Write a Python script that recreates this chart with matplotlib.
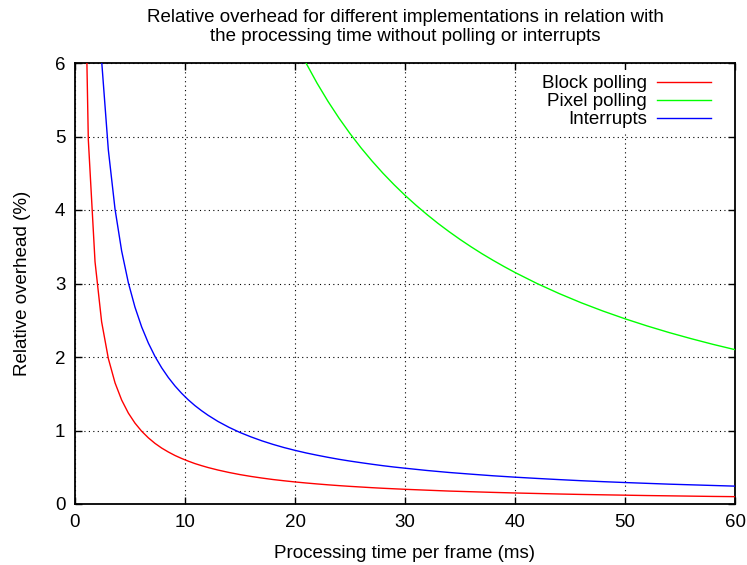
import matplotlib
import matplotlib.pyplot as plt

matplotlib.use("Agg")

plt.rcParams["font.family"] = ["Liberation Sans", "DejaVu Sans"]
plt.rcParams["font.size"] = 13.5

# processing time per frame (ms)
time_ms = [0.61, 1.21, 1.82, 2.42, 3.03, 3.64, 4.24, 4.85, 5.45, 6.06, 6.67, 7.27,
           7.88, 8.48, 9.09, 9.70, 10.3, 10.9, 11.5, 12.1, 13, 14, 15, 16, 17, 18,
           19, 20, 21, 22, 23, 24, 25, 26, 27, 28, 29, 30, 32, 34, 36, 38, 40, 42,
           44, 46, 48, 50, 52, 54, 56, 58, 60]

# relative overhead (%)
block_polling = [9.836, 4.959, 3.297, 2.479, 1.980, 1.648, 1.415, 1.237, 1.101, 0.990,
                 0.900, 0.825, 0.761, 0.708, 0.660, 0.619, 0.583, 0.550, 0.522, 0.496,
                 0.462, 0.429, 0.400, 0.375, 0.353, 0.333, 0.316, 0.300, 0.286, 0.273,
                 0.261, 0.250, 0.240, 0.231, 0.222, 0.214, 0.207, 0.200, 0.188, 0.176,
                 0.167, 0.158, 0.150, 0.143, 0.136, 0.130, 0.125, 0.120, 0.115, 0.111,
                 0.107, 0.103, 0.100]

interrupts = [23.93, 12.07, 8.022, 6.033, 4.818, 4.011, 3.443, 3.010, 2.679, 2.409,
              2.189, 2.008, 1.853, 1.722, 1.606, 1.505, 1.417, 1.339, 1.270, 1.207,
              1.123, 1.043, 0.973, 0.913, 0.859, 0.811, 0.768, 0.730, 0.695, 0.664,
              0.635, 0.608, 0.584, 0.562, 0.541, 0.521, 0.503, 0.487, 0.456, 0.429,
              0.406, 0.384, 0.365, 0.348, 0.332, 0.317, 0.304, 0.292, 0.281, 0.270,
              0.261, 0.252, 0.243]

pixel_time_ms = [20, 21, 22, 23, 24, 25, 26, 27, 28, 29, 30, 31, 32, 33, 34, 35, 36,
                 37, 38, 39, 40, 42, 44, 46, 48, 50, 52, 54, 56, 58, 60]
pixel_polling = [6.300, 6.000, 5.727, 5.478, 5.250, 5.040, 4.846, 4.667, 4.500, 4.345,
                 4.200, 4.065, 3.938, 3.818, 3.706, 3.600, 3.500, 3.405, 3.316, 3.231,
                 3.150, 3.000, 2.864, 2.739, 2.625, 2.520, 2.423, 2.333, 2.250, 2.172,
                 2.100]

fig = plt.figure(figsize=(7.47, 5.65), dpi=100)
ax = fig.add_axes([75 / 747, 61 / 565, 660 / 747, 441 / 565])

ax.plot(time_ms, block_polling, color="#ff0000", lw=1, label="Block polling", zorder=3)
ax.plot(pixel_time_ms, pixel_polling, color="#00ff00", lw=1, label="Pixel polling", zorder=3)
ax.plot(time_ms, interrupts, color="#0000ff", lw=1, label="Interrupts", zorder=3)

ax.set_xlim(0, 60)
ax.set_ylim(0, 6)
ax.set_xticks(range(0, 61, 10))
ax.set_yticks(range(0, 7))
ax.grid(True, color="black", linestyle=(0, (1, 3)), linewidth=0.8)
ax.set_axisbelow(True)
ax.tick_params(direction="in", length=5, width=1, top=True, right=True, pad=7)
for s in ax.spines.values():
    s.set_linewidth(1.3)

ax.set_xlabel("Processing time per frame (ms)", labelpad=10)
ax.set_ylabel("Relative overhead (%)", labelpad=17)
fig.text(405 / 747, 1 - 27 / 565,
         "Relative overhead for different implementations in relation with\n"
         "the processing time without polling or interrupts",
         ha="center", va="center", linespacing=1.15)

leg = ax.legend(loc="upper right", bbox_to_anchor=(0.972, 0.985), markerfirst=False,
                handlelength=2.9, handletextpad=0.5, labelspacing=0.05,
                borderpad=0.3, borderaxespad=0.0, fancybox=False, framealpha=1)
leg.get_frame().set_edgecolor("white")
leg.get_frame().set_linewidth(0)

fig.savefig("out.png", dpi=100, facecolor="white")
